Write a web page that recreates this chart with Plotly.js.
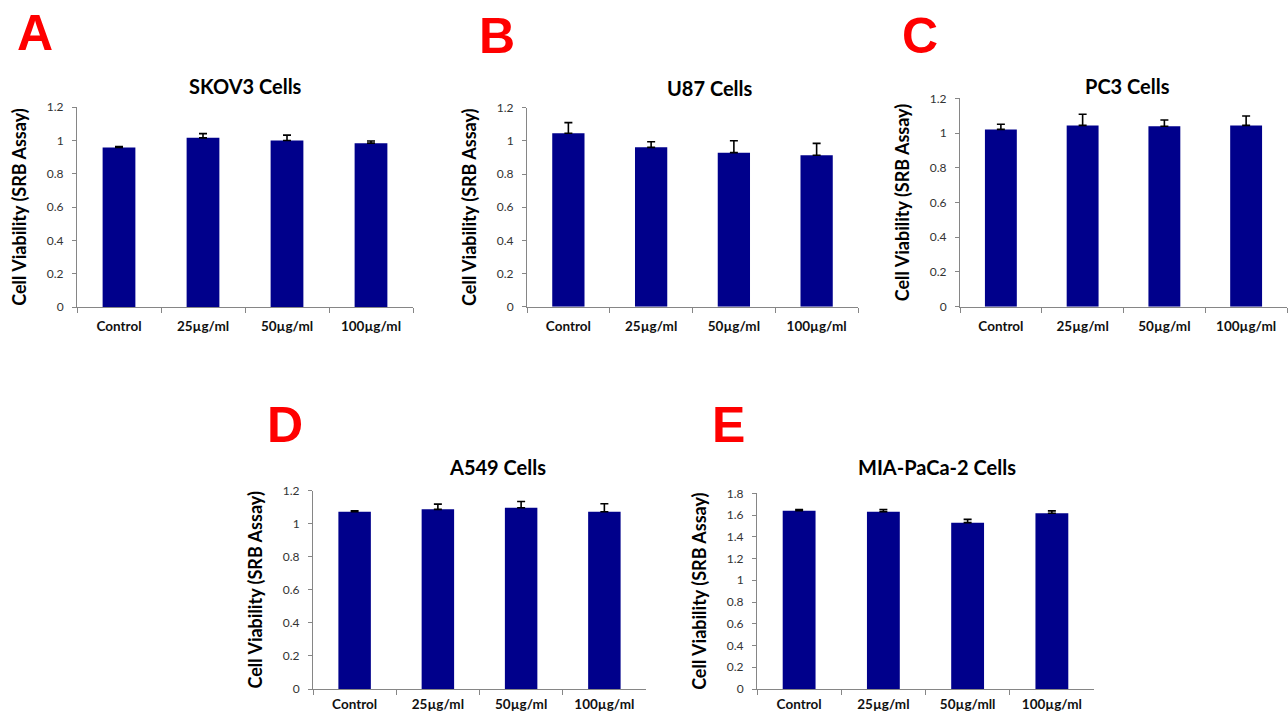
<!DOCTYPE html>
<html>
<head>
<meta charset="utf-8">
<script src="https://cdn.plot.ly/plotly-3.0.1.min.js"></script>
<style>html,body{margin:0;padding:0;background:#fff;}#chart{width:1288px;height:715px;}</style>
</head>
<body>
<div id="chart"></div>
<script>
// ---- data ----
const categories = ["Control", "25\u00b5g/ml", "50\u00b5g/ml", "100\u00b5g/ml"];
const categoriesE = ["Control", "25\u00b5g/ml", "50\u00b5g/mll", "100\u00b5g/ml"];

const panelLetters = ["A", "B", "C", "D", "E"];
const panelTitles = ["SKOV3 Cells", "U87 Cells", "PC3 Cells", "A549 Cells", "MIA-PaCa-2 Cells"];

const skov3Values = [0.957, 1.015, 0.999, 0.983];
const skov3Errors = [0.005, 0.025, 0.032, 0.013];

const u87Values = [1.046, 0.961, 0.929, 0.913];
const u87Errors = [0.064, 0.034, 0.072, 0.072];

const pc3Values = [1.021, 1.044, 1.039, 1.044];
const pc3Errors = [0.030, 0.064, 0.036, 0.054];

const a549Values = [1.073, 1.087, 1.097, 1.073];
const a549Errors = [0.006, 0.032, 0.038, 0.048];

const miaValues = [1.640, 1.631, 1.530, 1.616];
const miaErrors = [0.010, 0.020, 0.030, 0.022];

const yMax = [1.2, 1.2, 1.2, 1.2, 1.8];

// ---- layout geometry (paper fractions) ----
const W = 1288, H = 715;
const px = v => v / W;
const py = v => 1 - v / H;
const domains = [
  {x: [77, 413],  y: [307, 107]},
  {x: [527, 858], y: [306.7, 107.7]},
  {x: [960, 1287], y: [306.7, 98.3]},
  {x: [313, 646], y: [689, 490.7]},
  {x: [757, 1094], y: [689, 493.3]}
];
const letterPos = [[35, 33], [497, 36], [920, 36], [285, 425], [728, 425]];
const titlePos = [[245, 86], [710, 88], [1127, 86], [497, 467], [937, 467]];
const xLabelStandoff = [7, 7, 7, 3, 3];

const seriesVals = [skov3Values, u87Values, pc3Values, a549Values, miaValues];
const seriesErrs = [skov3Errors, u87Errors, pc3Errors, a549Errors, miaErrors];
const seriesCats = [categories, categories, categories, categories, categoriesE];

const BAR = "#00008B";
const AXIS = "#868686";
const FONT = "Lato, 'Open Sans', sans-serif";

const data = [];
const layout = {
  width: W, height: H,
  margin: {l: 0, r: 0, t: 0, b: 0},
  paper_bgcolor: "#ffffff",
  plot_bgcolor: "#ffffff",
  showlegend: false,
  bargap: 0.61,
  font: {family: FONT, color: "#222"},
  annotations: []
};

for (let i = 0; i < 5; i++) {
  const n = i === 0 ? "" : String(i + 1);
  data.push({
    type: "bar",
    x: seriesCats[i],
    y: seriesVals[i],
    xaxis: "x" + n,
    yaxis: "y" + n,
    marker: {color: BAR, line: {width: 0}},
    error_y: {
      type: "data", symmetric: false,
      array: seriesErrs[i],
      arrayminus: seriesErrs[i].map(() => 0),
      color: "#000", thickness: 1.6, width: 4
    },
    hoverinfo: "x+y"
  });
  const d = domains[i];
  layout["xaxis" + n] = {
    domain: [px(d.x[0]), px(d.x[1])],
    anchor: "y" + n,
    type: "category",
    showline: true, linecolor: AXIS, linewidth: 1,
    ticks: "outside", ticklen: 5, tickcolor: AXIS, tickson: "boundaries",
    showgrid: false, zeroline: false,
    tickfont: {family: FONT, size: 13.5, color: "#111", weight: "bold"},
    ticklabelstandoff: xLabelStandoff[i],
    fixedrange: true
  };
  layout["yaxis" + n] = {
    domain: [py(d.y[0]), py(d.y[1])],
    anchor: "x" + n,
    range: [0, yMax[i]],
    dtick: 0.2, tick0: 0,
    showline: true, linecolor: AXIS, linewidth: 1,
    ticks: "outside", ticklen: 4, tickcolor: AXIS,
    showgrid: false, zeroline: false,
    tickfont: {family: FONT, size: 12, color: "#333"},
    ticklabelstandoff: 6,
    title: {
      text: "Cell Viability (SRB Assay)",
      font: {family: FONT, size: 18, color: "#000", weight: "bold"},
      standoff: 15
    },
    fixedrange: true
  };
  layout.annotations.push({
    text: panelTitles[i], xref: "paper", yref: "paper",
    x: px(titlePos[i][0]), y: py(titlePos[i][1]),
    xanchor: "center", yanchor: "middle", showarrow: false,
    font: {family: FONT, size: 20, color: "#000", weight: "bold"}
  });
  layout.annotations.push({
    text: panelLetters[i], xref: "paper", yref: "paper",
    x: px(letterPos[i][0]), y: py(letterPos[i][1]),
    xanchor: "center", yanchor: "middle", showarrow: false,
    font: {family: "'Liberation Sans', Arial, sans-serif", size: 50, color: "#ff0000", weight: "bold"}
  });
}

Plotly.newPlot("chart", data, layout, {displayModeBar: false, staticPlot: true});
</script>
</body>
</html>
